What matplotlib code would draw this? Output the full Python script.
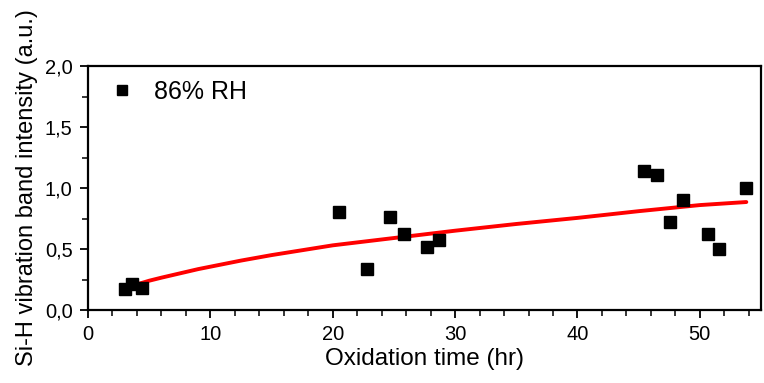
import numpy as np
import matplotlib
matplotlib.use("Agg")
import matplotlib.pyplot as plt
from matplotlib.ticker import MultipleLocator, FuncFormatter

# measured points (86% RH)
time_hr = [3.0, 3.6, 4.4, 20.5, 22.8, 24.7, 25.8, 27.7, 28.7,
           45.4, 46.5, 47.6, 48.6, 50.7, 51.6, 53.8]
intensity = [0.17, 0.21, 0.18, 0.80, 0.34, 0.76, 0.62, 0.52, 0.57,
             1.14, 1.11, 0.72, 0.90, 0.62, 0.50, 1.00]

# fit curve
fit_x = [3.0, 4.0, 5.0, 6.0, 7.5, 9.0, 10, 12.5, 15, 17.5, 20, 22.5, 25, 27.5,
         30, 35, 40, 45, 50, 53.8]
fit_y = [0.18, 0.21, 0.24, 0.265, 0.30, 0.335, 0.355, 0.405, 0.45, 0.49, 0.53,
         0.56, 0.59, 0.62, 0.65, 0.705, 0.755, 0.81, 0.86, 0.885]

plt.rcParams['font.family'] = ['Liberation Sans', 'DejaVu Sans']

fig = plt.figure(figsize=(7.64, 3.83), dpi=100)
ax = fig.add_axes([88/764, 1-310/383, (761-88)/764, (310-66)/383])

ax.plot(fit_x, fit_y, color='#ff0000', linewidth=2.8, zorder=2,
        solid_capstyle='round')
ax.plot(time_hr, intensity, 's', color='black', markersize=8, linestyle='none',
        label='86% RH', zorder=3)

ax.set_xlim(0, 55)
ax.set_ylim(0, 2.0)
ax.xaxis.set_major_locator(MultipleLocator(10))
ax.xaxis.set_minor_locator(MultipleLocator(2))
ax.yaxis.set_major_locator(MultipleLocator(0.5))
ax.yaxis.set_minor_locator(MultipleLocator(0.25))
ax.yaxis.set_major_formatter(FuncFormatter(lambda v, p: f'{v:.1f}'.replace('.', ',')))

ax.tick_params(which='major', direction='out', length=6, width=1.3,
               labelsize=14.5, pad=5)
ax.tick_params(which='minor', direction='out', length=4, width=1.1)
for s in ax.spines.values():
    s.set_linewidth(1.6)

ax.set_xlabel('Oxidation time (hr)', fontsize=17.5, labelpad=3)
ax.set_ylabel('Si-H vibration band intensity (a.u.)', fontsize=17, labelpad=5)

ax.legend(loc='upper left', bbox_to_anchor=(0.0, 1.015), frameon=False,
          fontsize=18, handletextpad=0.65, borderaxespad=0.3, markerscale=0.9,
          handlelength=1.3)

plt.savefig('out.png', dpi=100)
